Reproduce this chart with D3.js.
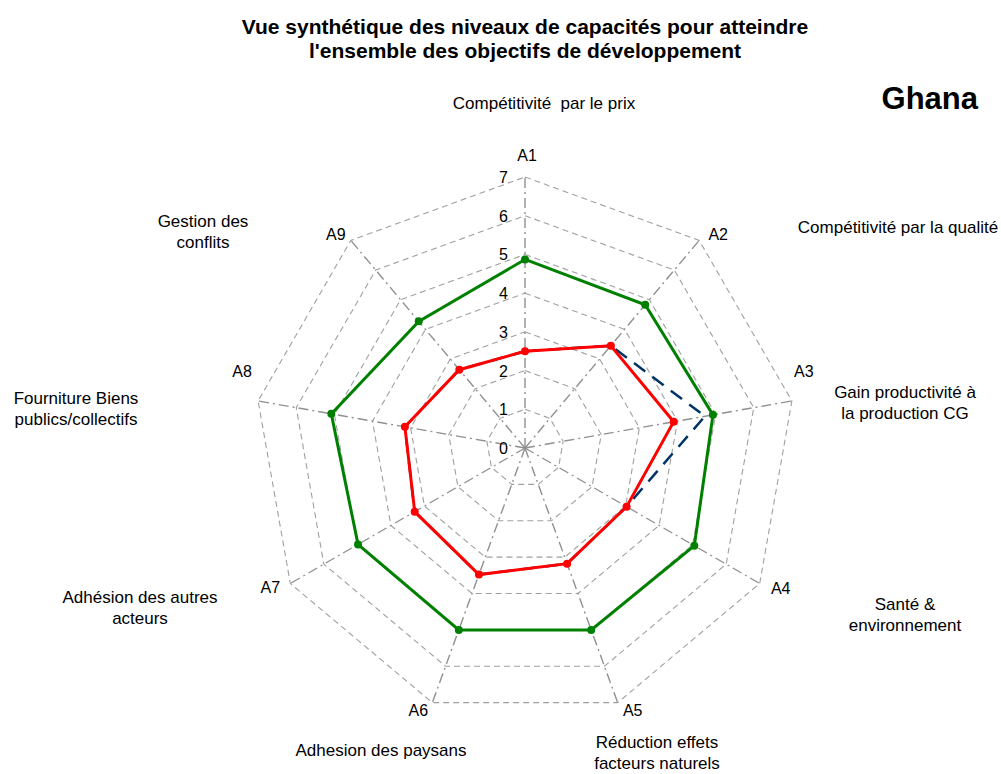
<!DOCTYPE html>
<html><head><meta charset="utf-8">
<script src="https://cdn.jsdelivr.net/npm/d3@7"></script>
<style>body{margin:0;background:#fff}svg{display:block;font-family:"Liberation Sans",Arial,sans-serif}text{white-space:pre}</style>
</head><body><svg id="c" width="1001" height="774"></svg>
<script>
const axes = ["A1","A2","A3","A4","A5","A6","A7","A8","A9"];
const categories = [
  ["Compétitivité  par le prix"],
  ["Compétitivité par la qualité"],
  ["Gain productivité à","la production CG"],
  ["Santé &","environnement"],
  ["Réduction effets","facteurs naturels"],
  ["Adhesion des paysans"],
  ["Adhésion des autres","acteurs"],
  ["Fourniture Biens","publics/collectifs"],
  ["Gestion des","conflits"]
];
const ticks = [0,1,2,3,4,5,6,7];
const targetValues = [4.87, 4.83, 4.93, 5.05, 5.0, 5.0, 4.98, 5.08, 4.27];
const blueValues   = [2.5, 3.45, 4.72, 3.03, 3.18, 3.48, 3.29, 3.15, 2.64];
const redValues    = [2.5, 3.45, 3.9, 3.03, 3.18, 3.48, 3.29, 3.15, 2.64];
// layout: category label anchors (first line centre) and axis-label offsets from outer vertex
const catLabelPos = [[544,103],[898,227],[905,392],[905,604],[657,742],[381,750],[140,597],[76,398],[203,221]];
const axisLabelOff = [[2,-22],[19,-6],[12,-30],[21,4],[15,7],[-14,7],[-20,3],[-16,-30],[-15,-6]];

const svg = d3.select("#c");
const cx = 525, cy = 448;
const r = d3.scaleLinear().domain([0,7]).range([0,271]);
const ang = d3.scalePoint().domain(axes).range([0, 2*Math.PI*8/9]);
const pt = (a, v) => [cx + r(v)*Math.sin(ang(a)), cy - r(v)*Math.cos(ang(a))];

// title
svg.append("text").attr("x",525).attr("y",34).attr("text-anchor","middle")
  .attr("font-weight","bold").attr("font-size",21).text("Vue synthétique des niveaux de capacités pour atteindre");
svg.append("text").attr("x",525).attr("y",58).attr("text-anchor","middle")
  .attr("font-weight","bold").attr("font-size",21).text("l'ensemble des objectifs de développement");
svg.append("text").attr("x",978).attr("y",109).attr("text-anchor","end")
  .attr("font-weight","bold").attr("font-size",31).text("Ghana");

// grid rings
const line = d3.line();
ticks.filter(t=>t>0).forEach(t=>{
  const pts = axes.map(a=>pt(a,t)); pts.push(pts[0]);
  svg.append("path").attr("d",line(pts)).attr("fill","none")
    .attr("stroke","#a0a0a0").attr("stroke-width",1.1).attr("stroke-dasharray","6,4");
});
// spokes
axes.forEach(a=>{
  svg.append("path").attr("d",line([pt(a,0),pt(a,7)])).attr("fill","none")
    .attr("stroke","#909090").attr("stroke-width",1.4).attr("stroke-dasharray","10,4,2,4");
});
// tick labels
ticks.forEach(t=>{
  svg.append("text").attr("x",cx-17).attr("y",cy - r(t)+6).attr("text-anchor","end")
    .attr("font-size",16).text(t);
});
// axis labels
axes.forEach((a,i)=>{
  const [x,y] = pt(a,7);
  svg.append("text").attr("x",x+axisLabelOff[i][0]).attr("y",y+axisLabelOff[i][1]+6)
    .attr("text-anchor","middle").attr("font-size",16).text(a);
});
// category labels
categories.forEach((c,i)=>{
  const [x,y] = catLabelPos[i];
  const t = svg.append("text").attr("text-anchor","middle").attr("font-size",17);
  c.forEach((s,j)=>t.append("tspan").attr("x",x).attr("y",y+6+j*21).text(s));
});

function series(vals, color, dash, width, markers){
  const pts = axes.map((a,i)=>pt(a,vals[i])); pts.push(pts[0]);
  svg.append("path").attr("d",line(pts)).attr("fill","none").attr("stroke",color)
    .attr("stroke-width",width).attr("stroke-dasharray",dash).attr("stroke-linejoin","miter");
  if(markers) svg.selectAll(null).data(axes).enter().append("circle")
    .attr("cx",(a,i)=>pt(a,vals[i])[0]).attr("cy",(a,i)=>pt(a,vals[i])[1])
    .attr("r",4).attr("fill",color);
}
series(targetValues, "#008000", null, 3, true);
series(blueValues, "#003366", "14,9", 2.5, false);
series(redValues, "#ff0000", null, 3, true);
</script></body></html>
